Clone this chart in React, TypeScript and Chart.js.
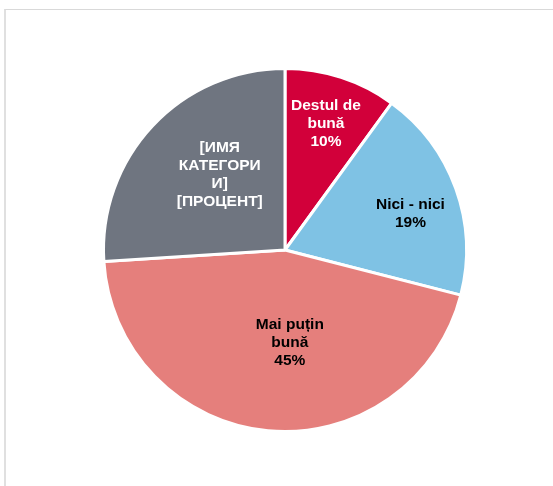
import React, { useEffect, useRef } from "react";
import { Chart, registerables } from "chart.js";

Chart.register(...registerables);

const categories = ["Destul de bună", "Nici - nici", "Mai puțin bună", "[ИМЯ КАТЕГОРИИ]"];
const values = [10, 19, 45, 26];
const labelLines = [
  ["Destul de", "bună"],
  ["Nici - nici"],
  ["Mai puțin", "bună"],
  ["[ИМЯ", "КАТЕГОРИ", "И]", "[ПРОЦЕНТ]"],
];
const showPercent = [true, true, true, false];
const sliceColors = ["#D2003A", "#7FC2E4", "#E57F7C", "#6F7580"];
const labelColors = ["#FFFFFF", "#000000", "#000000", "#FFFFFF"];
// [radius factor, angle shift in degrees] for label placement
const labelPlacement: [number, number][] = [
  [0.73, 0],
  [0.72, 3.5],
  [0.51, -8.4],
  [0.55, 6],
];

const labelPlugin = {
  id: "sliceLabels",
  afterDatasetsDraw(chart: any) {
    const ctx = chart.ctx;
    const meta = chart.getDatasetMeta(0);
    const data = chart.data.datasets[0].data as number[];
    const total = data.reduce((a, b) => a + b, 0);
    ctx.save();
    ctx.font = "bold 15.5px 'Liberation Sans', Arial, sans-serif";
    ctx.textAlign = "center";
    ctx.textBaseline = "middle";
    meta.data.forEach((arc: any, i: number) => {
      const { x, y, startAngle, endAngle, outerRadius } = arc.getProps(
        ["x", "y", "startAngle", "endAngle", "outerRadius"],
        true
      );
      const [f, shift] = labelPlacement[i];
      const mid = (startAngle + endAngle) / 2 + (shift * Math.PI) / 180;
      const cx = x + Math.cos(mid) * outerRadius * f;
      const cy = y + Math.sin(mid) * outerRadius * f;
      const lines = [...labelLines[i]];
      if (showPercent[i]) lines.push(Math.round((data[i] / total) * 100) + "%");
      const lh = 18;
      ctx.fillStyle = labelColors[i];
      lines.forEach((ln, k) => {
        ctx.fillText(ln, cx, cy + (k - (lines.length - 1) / 2) * lh);
      });
    });
    ctx.restore();
  },
};

export default function App() {
  const ref = useRef<HTMLCanvasElement | null>(null);
  useEffect(() => {
    if (!ref.current) return;
    const chart = new Chart(ref.current, {
      type: "pie",
      data: {
        labels: categories,
        datasets: [
          {
            data: values,
            backgroundColor: sliceColors,
            borderColor: "#FFFFFF",
            borderWidth: 3,
          },
        ],
      },
      options: {
        animation: false,
        responsive: false,
        maintainAspectRatio: false,
        layout: { padding: { top: 67, bottom: 53, left: 17, right: 0 } },
        plugins: {
          legend: { display: false },
          tooltip: { enabled: false },
        },
      },
      plugins: [labelPlugin],
    });
    return () => chart.destroy();
  }, []);
  return (
    <div style={{ position: "fixed", left: 0, top: 0, width: 553, height: 486, background: "#fff" }}>
      <div
        style={{
          position: "absolute",
          left: 4,
          top: 9,
          width: 560,
          height: 500,
          borderTop: "1px solid #D9D9D9",
          borderLeft: "2px solid #E0E0E0",
          boxSizing: "border-box",
        }}
      />
      <canvas ref={ref} width={553} height={486} style={{ position: "absolute", left: 0, top: 0 }} />
    </div>
  );
}
